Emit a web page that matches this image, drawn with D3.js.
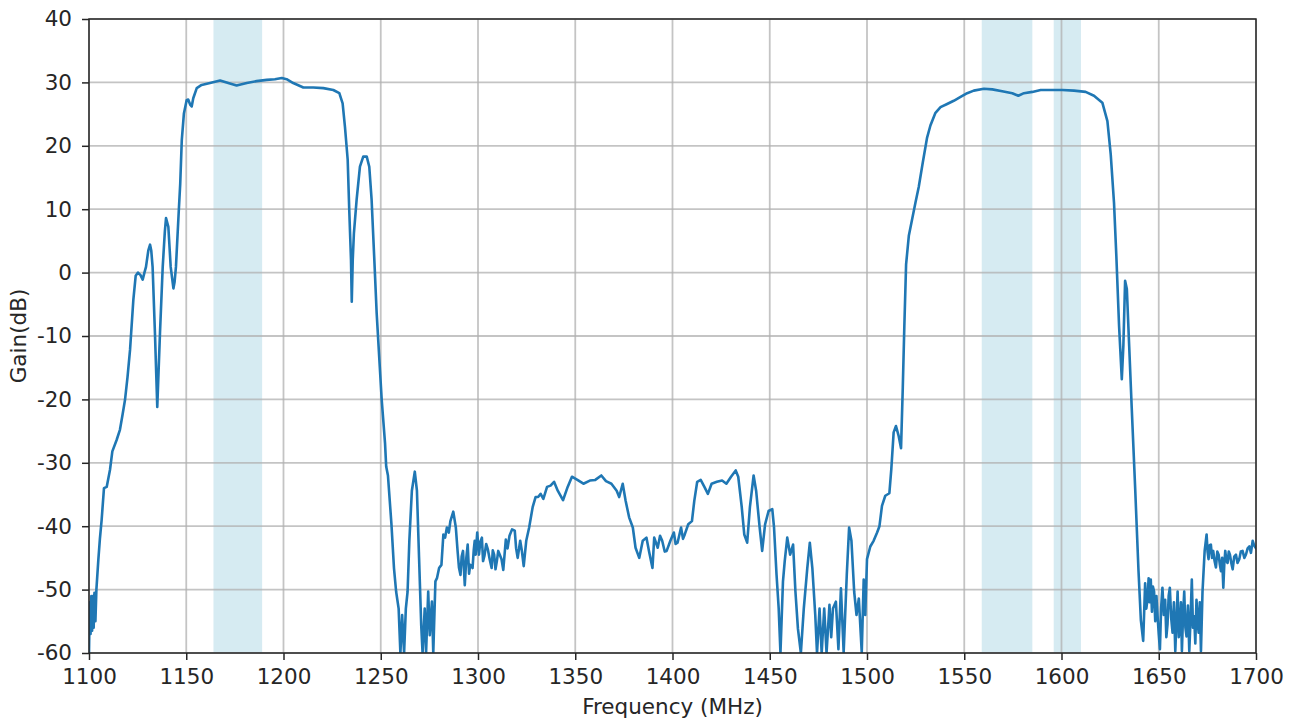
<!DOCTYPE html>
<html>
<head>
<meta charset="utf-8">
<script src="https://cdn.jsdelivr.net/npm/d3@7/dist/d3.min.js"></script>
<style>
  html, body { margin: 0; padding: 0; background: #ffffff; }
  svg { display: block; }
  text { font-family: "DejaVu Sans", sans-serif; fill: #262626; }
</style>
</head>
<body>
<svg id="chart" width="1299" height="723"></svg>
<script>
// ---- data: lower band (1100-1251 MHz) ----
const lowFreq = [
  1100.0,1100.4,1100.8,1101.2,1101.6,1102.0,1102.4,1102.8,1103.3,1103.8,
  1104.8,1105.6,1106.5,1107.7,1109.1,1110.8,1112.0,1114.2,1115.9,1117.2,
  1118.5,1119.8,1121.1,1122.8,1124.0,1125.2,1126.5,1127.6,1128.5,1129.3,
  1130.5,1131.4,1132.0,1132.7,1133.9,1135.1,1136.5,1137.9,1139.0,1139.6,
  1140.8,1142.0,1143.4,1144.0,1144.7,1146.1,1146.9,1147.7,1148.8,1150.2,
  1151.0,1152.0,1152.8,1153.6,1155.4,1157.9,1162.2,1167.4,1171.6,1175.9,
  1181.1,1186.2,1191.4,1195.6,1199.1,1201.6,1205.0,1210.2,1215.3,1220.5,
  1225.6,1228.7,1230.4,1231.6,1233.0,1233.8,1234.7,1235.1,1235.6,1236.2,
  1237.6,1239.3,1241.0,1242.8,1244.1,1245.3,1246.7,1247.9,1249.3,1250.5
];
const lowGain = [
  -60,-52,-57,-51,-56.5,-51,-56,-50.5,-55,-50,
  -45.3,-42,-39,-34,-33.8,-31.1,-28.2,-26.4,-24.8,-22.5,
  -20.1,-16.5,-12.2,-4.3,-0.5,0,-0.4,-1.1,0,0.9,
  3.5,4.4,3.5,0.9,-9.5,-21.2,-9.5,0.9,6.5,8.6,
  7.2,0.9,-2.5,-1.5,0.9,9.4,14,20.9,25.1,27.2,
  27.3,26.5,26.2,27.5,29.1,29.6,29.9,30.3,29.9,29.5,
  29.9,30.2,30.4,30.5,30.7,30.5,29.9,29.2,29.2,29.1,
  28.8,28.3,26.7,23,17.8,9.9,2,-4.6,2,6.2,
  11.5,16.7,18.3,18.3,16.7,11.5,2,-6.4,-13.8,-20.1
];
// ---- data: mid stop band (1252-1500 MHz) ----
const midFreq = [
  1252.2,1252.8,1253.7,1255.5,1256.8,1257.9,1259.2,1260.1,1261.0,1262.0,
  1262.9,1263.8,1264.7,1266.0,1267.5,1268.6,1269.7,1270.8,1271.5,1272.6,
  1273.3,1274.4,1275.2,1276.3,1277.0,1278.1,1278.9,1280.0,1281.2,1282.2,
  1283.1,1284.0,1285.0,1285.8,1287.3,1288.6,1289.5,1290.2,1291.0,1291.6,
  1292.3,1293.2,1294.0,1294.7,1295.4,1296.0,1297.2,1297.8,1298.3,1298.8,
  1299.6,1300.5,1301.2,1302.0,1302.6,1303.3,1304.2,1305.1,1306.0,1307.0,
  1307.6,1308.3,1309.0,1309.7,1310.4,1311.2,1312.1,1313.0,1314.3,1315.2,
  1316.2,1317.5,1318.9,1319.6,1320.4,1321.7,1322.6,1323.5,1324.8,1326.3,
  1328.1,1329.6,1330.9,1332.2,1333.6,1335.5,1337.3,1339.1,1341.0,1343.7,
  1346.1,1348.3,1351.1,1354.2,1357.5,1360.3,1363.4,1365.8,1368.6,1371.3,
  1372.6,1374.4,1375.9,1377.7,1379.6,1381.0,1382.9,1384.7,1386.6,1387.9,
  1389.7,1390.6,1392.4,1393.6,1394.7,1396.0,1397.0,1398.9,1400.7,1401.6,
  1402.6,1404.4,1405.4,1406.3,1408.1,1410.0,1411.2,1412.7,1414.5,1416.4,
  1418.2,1420.1,1422.8,1425.5,1427.7,1430.1,1432.5,1433.8,1435.6,1436.9,
  1438.4,1439.8,1441.7,1443.0,1444.8,1446.1,1447.6,1449.4,1451.3,1452.2,
  1453.5,1454.6,1455.5,1456.8,1457.7,1459.0,1460.5,1462.0,1463.2,1464.5,
  1466.0,1467.5,1469.3,1470.6,1471.9,1473.4,1474.3,1475.6,1476.7,1478.0,
  1479.2,1480.7,1481.6,1482.5,1484.0,1485.3,1486.6,1488.0,1489.6,1490.8,
  1492.0,1493.4,1494.6,1495.8,1497.3,1498.3,1499.1
];
const midGain = [
  -26.9,-30.6,-32,-39.7,-46.6,-50.3,-53,-60,-54,-60,
  -53,-50.3,-42.3,-34.4,-31.4,-34.4,-45,-55.6,-60,-53,
  -60,-50.3,-57.2,-51.9,-60,-48.7,-48.2,-46.6,-46.1,-41.3,
  -41.8,-40.2,-41,-39.2,-37.7,-40.2,-43.9,-46.5,-47.7,-44.8,
  -43.9,-49.3,-45,-42.9,-47.5,-46.1,-46.6,-43.8,-42.3,-44.5,
  -41,-44.5,-42.5,-41.8,-45.5,-44.7,-42.8,-43.7,-45.2,-46.6,
  -43.8,-44.5,-46.8,-45.5,-43.9,-44.5,-45.2,-46.9,-42.1,-43.5,
  -41.5,-40.5,-40.7,-43.5,-45,-42.3,-44,-46.3,-42.3,-40.2,
  -37,-35.4,-35.4,-34.9,-35.7,-33.8,-33.6,-33,-34.4,-35.9,
  -33.8,-32.2,-32.7,-33.3,-32.8,-32.7,-32,-32.9,-33.3,-34.4,
  -35.4,-33.3,-36,-38.6,-40.2,-43.4,-45,-42.3,-41.8,-43.9,
  -46.6,-41.8,-43.4,-41.5,-42.3,-44,-43.9,-42.3,-41,-42.8,
  -42.6,-40.2,-42,-41.3,-39.7,-39.2,-36,-33,-32.7,-33.8,
  -34.9,-33.3,-33,-32.8,-33.3,-32.2,-31.2,-32.2,-37,-41.3,
  -42.6,-37,-32,-34.4,-40.2,-43.9,-39.7,-37.6,-37.3,-40.2,
  -47.7,-53,-60,-48.7,-45.5,-41.8,-44.5,-42.9,-50.3,-56.2,
  -60,-53,-46.6,-42.6,-46.6,-54,-60,-53,-60,-53,
  -60,-52.4,-57.5,-53,-51.9,-59.4,-49.8,-59.9,-47.7,-40.2,
  -42.3,-50.3,-54,-51.4,-59.9,-48.4,-54
];
// ---- data: upper band (1500-1642 MHz) ----
const highFreq = [
  1500.0,1501.7,1503.4,1505.2,1506.4,1507.7,1509.4,1511.5,1512.5,1513.7,
  1514.9,1516.3,1517.5,1518.4,1519.2,1520.1,1521.5,1523.2,1524.9,1526.6,
  1528.7,1530.9,1532.6,1535.2,1537.8,1541.2,1544.6,1548.1,1551.5,1554.9,
  1560.1,1564.4,1569.5,1574.7,1577.8,1580.7,1585.0,1589.3,1594.4,1600.4,
  1606.4,1612.4,1616.7,1621.0,1623.6,1625.3,1627.0,1628.2,1629.6,1631.0,
  1631.8,1632.7,1633.6,1634.8,1636.1,1637.9,1639.6,1640.8,1642.0
];
const highGain = [
  -45.2,-43.2,-42.3,-41,-40,-36.8,-35.2,-34.8,-31,-25.2,
  -24.2,-25.8,-27.7,-18.1,-8.4,1.3,5.8,8.4,11,13.5,
  17.4,21.3,23.2,25.2,26.1,26.6,27.1,27.7,28.3,28.7,
  29,28.9,28.6,28.3,27.9,28.3,28.5,28.8,28.8,28.8,
  28.7,28.5,27.9,26.8,23.9,18.7,11,2.6,-8.4,-16.8,
  -11.6,-1.3,-2.6,-11.6,-21.3,-34.2,-47.1,-54.8,-58.1
];
// ---- data: upper stop band (1643-1700 MHz) ----
const tailFreq = [
  1643.0,1643.6,1644.2,1644.8,1645.3,1645.9,1646.5,1647.0,1647.6,1648.2,
  1648.8,1649.4,1650.0,1650.6,1651.2,1651.9,1652.6,1653.3,1653.9,1654.5,
  1655.1,1655.7,1656.4,1657.1,1657.8,1658.5,1659.1,1659.7,1660.3,1660.9,
  1661.4,1661.9,1662.5,1663.1,1663.7,1664.3,1665.0,1665.7,1666.3,1667.0,
  1667.6,1668.2,1668.8,1669.4,1670.0,1670.5,1671.1,1671.7,1672.5,1673.6,
  1674.6,1675.1,1675.6,1676.2,1676.8,1677.4,1678.0,1678.7,1679.4,1680.1,
  1680.8,1681.4,1682.0,1682.6,1683.2,1683.7,1684.2,1684.8,1685.4,1686.0,
  1686.6,1687.3,1688.0,1688.8,1689.7,1690.5,1691.4,1692.2,1693.1,1694.0,
  1694.8,1695.7,1696.6,1697.4,1698.3,1699.0,1700.0
];
const tailGain = [
  -49,-53,-51.6,-48.2,-52,-48.4,-53.5,-49.5,-50.3,-55,
  -51,-54.2,-57,-59.4,-53,-49.7,-54,-51.6,-57.5,-55.5,
  -51,-49.7,-54.5,-56.8,-52,-59.7,-55,-50.3,-57.5,-55.5,
  -52,-59.7,-54,-50.3,-56,-57.4,-52.5,-59.7,-55,-48.4,
  -56,-54.2,-58.5,-51.6,-55,-56.8,-52,-59.7,-50.3,-43.9,
  -41.3,-44,-45.2,-43,-42.9,-45,-43.9,-45.5,-46.5,-44,
  -44.5,-46,-47.1,-45,-49.7,-46,-43.9,-45.5,-45.8,-44,
  -44.5,-45.8,-46.8,-44.8,-44.5,-45.8,-45.2,-44,-43.9,-45,
  -44.5,-43.5,-43.2,-44.2,-42.3,-43,-43.5
];
// shaded frequency bands (MHz)
const bandStart = [1164, 1559, 1596];
const bandEnd   = [1189, 1585, 1610];
const xTicks = [1100, 1150, 1200, 1250, 1300, 1350, 1400, 1450, 1500, 1550, 1600, 1650, 1700];
const yTicks = [40, 30, 20, 10, 0, -10, -20, -30, -40, -50, -60];
const xLabel = "Frequency (MHz)";
const yLabel = "Gain(dB)";

(function () {
  const mLeft = 89, mRight = 1256, mTop = 19, mBottom = 653;
  const fs = 21.5;
  const svg = d3.select("#chart");
  const x = d3.scaleLinear().domain([1100, 1700]).range([mLeft, mRight]);
  const y = d3.scaleLinear().domain([-60, 40]).range([mBottom, mTop]);

  // shaded bands
  svg.append("g").selectAll("rect")
    .data(bandStart.map((s, i) => ({ s, e: bandEnd[i] })))
    .join("rect")
    .attr("x", d => x(d.s))
    .attr("width", d => x(d.e) - x(d.s))
    .attr("y", mTop).attr("height", mBottom - mTop)
    .attr("fill", "#add8e6").attr("fill-opacity", 0.5);

  // grid
  const grid = svg.append("g").attr("stroke", "#b0b0b0").attr("stroke-opacity", 0.75).attr("stroke-width", 1.8);
  grid.selectAll("line.v").data(xTicks).join("line").attr("class", "v")
    .attr("x1", d => x(d)).attr("x2", d => x(d)).attr("y1", mTop).attr("y2", mBottom);
  grid.selectAll("line.h").data(yTicks).join("line").attr("class", "h")
    .attr("y1", d => y(d)).attr("y2", d => y(d)).attr("x1", mLeft).attr("x2", mRight);

  // line
  const freqs = lowFreq.concat(midFreq, highFreq, tailFreq);
  const gains = lowGain.concat(midGain, highGain, tailGain);
  const pts = freqs.map((f, i) => [f, gains[i]]);
  svg.append("defs").append("clipPath").attr("id", "clip")
    .append("rect").attr("x", mLeft).attr("y", mTop - 2).attr("width", mRight - mLeft).attr("height", mBottom - mTop + 2);
  svg.append("path")
    .datum(pts)
    .attr("clip-path", "url(#clip)")
    .attr("fill", "none")
    .attr("stroke", "#1f77b4")
    .attr("stroke-width", 2.6)
    .attr("stroke-linejoin", "round")
    .attr("stroke-linecap", "round")
    .attr("d", d3.line().x(d => x(d[0])).y(d => y(d[1])));

  // axes
  const xAxis = d3.axisBottom(x).tickValues(xTicks).tickFormat(d => String(d)).tickSize(7).tickPadding(8.5);
  const yAxis = d3.axisLeft(y).tickValues(yTicks).tickFormat(d => String(d)).tickSize(7).tickPadding(10);
  const gx = svg.append("g").attr("transform", `translate(0,${mBottom})`).call(xAxis);
  const gy = svg.append("g").attr("transform", `translate(${mLeft},0)`).call(yAxis);
  [gx, gy].forEach(g => {
    g.select(".domain").remove();
    g.selectAll(".tick line").attr("stroke", "#262626").attr("stroke-width", 1.5);
    g.selectAll(".tick text").attr("font-size", fs).attr("font-family", "DejaVu Sans").attr("fill", "#262626");
  });
  // spines
  svg.append("rect").attr("x", mLeft).attr("y", mTop).attr("width", mRight - mLeft).attr("height", mBottom - mTop)
    .attr("fill", "none").attr("stroke", "#262626").attr("stroke-width", 1.5);

  // labels
  svg.append("text").attr("x", (mLeft + mRight) / 2).attr("y", 714).attr("text-anchor", "middle")
    .attr("font-size", fs).text(xLabel);
  svg.append("text").attr("transform", `translate(25.5,${(mTop + mBottom) / 2}) rotate(-90)`).attr("text-anchor", "middle")
    .attr("font-size", fs).text(yLabel);
})();
</script>
</body>
</html>
